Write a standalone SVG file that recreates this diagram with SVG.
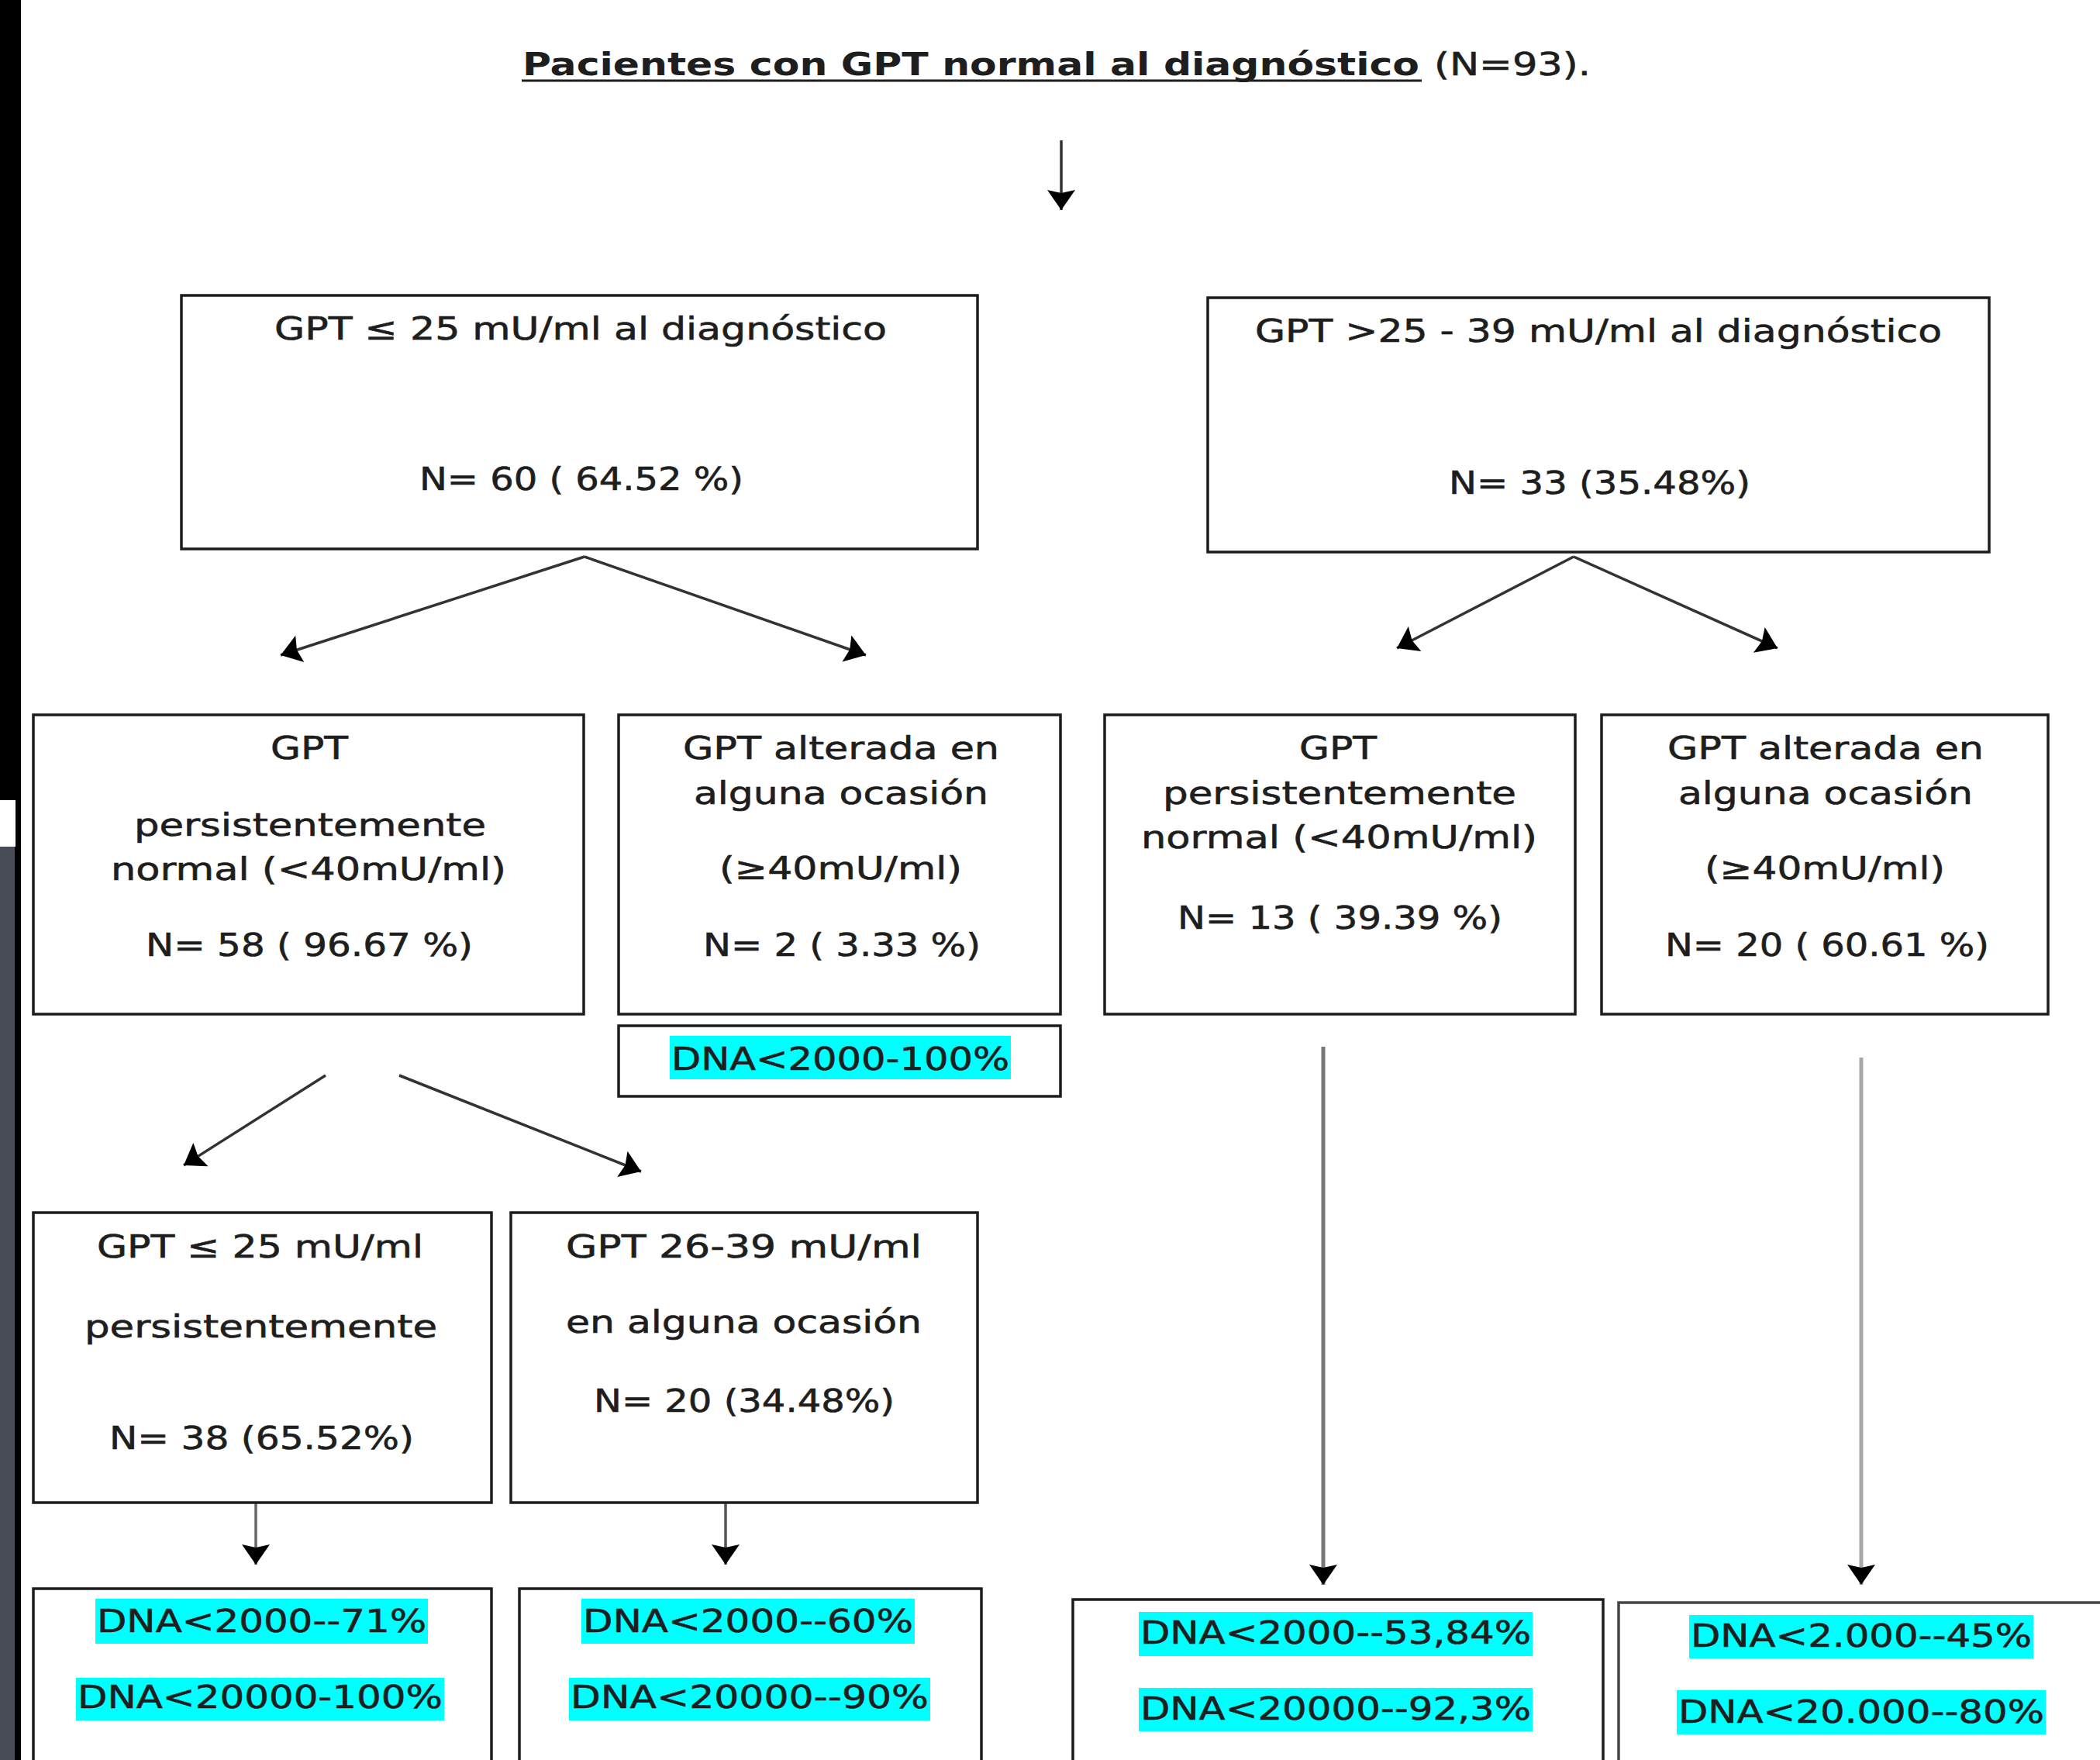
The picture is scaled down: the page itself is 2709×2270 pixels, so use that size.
<svg xmlns="http://www.w3.org/2000/svg" width="2709" height="2270" viewBox="0 0 2709 2270">
<style>
.box{fill:#fff;stroke:#1c1c1c;stroke-width:3.5}
.t{font-family:"DejaVu Sans","Liberation Sans",sans-serif;font-size:40px;fill:#1e1e1e;stroke:#1e1e1e;stroke-width:0.6}
.tb{font-family:"DejaVu Sans","Liberation Sans",sans-serif;font-size:40px;font-weight:bold;fill:#1e1e1e}
.hl{fill:#00ffff}
.c{fill:none;stroke:#333;stroke-width:3.5}
</style>
<defs>
<marker id="ah" viewBox="-2 -22 32 44" markerWidth="32" markerHeight="44" refX="26" refY="0" orient="auto" markerUnits="userSpaceOnUse">
<path d="M0,-18 L26,0 L0,18 L4,0 Z" fill="#000"/>
</marker>
</defs>
<rect x="0" y="0" width="2709" height="2270" fill="#fff"/>
<g id="side-bar">
<rect x="0" y="0" width="27" height="2270" fill="#000"/>
<rect x="0" y="1032" width="20" height="60" fill="#fff"/>
<rect x="0" y="1092" width="19" height="1178" fill="#474c57"/>
</g>
<g id="title">
<text class="tb" x="674" y="97" textLength="1157" lengthAdjust="spacingAndGlyphs">Pacientes con GPT normal al diagnóstico</text>
<line x1="673" y1="104" x2="1834" y2="104" stroke="#1e1e1e" stroke-width="3"/>
<text class="t" x="1850" y="97" textLength="202" lengthAdjust="spacingAndGlyphs">(N=93).</text>
</g>
<g id="connectors">
<line class="c" x1="1369" y1="181" x2="1369" y2="271" stroke="#444" marker-end="url(#ah)"/>
<line class="c" x1="754" y1="718" x2="362" y2="845" marker-end="url(#ah)"/>
<line class="c" x1="754" y1="718" x2="1117" y2="845" marker-end="url(#ah)"/>
<line class="c" x1="2030" y1="718" x2="1802" y2="836" marker-end="url(#ah)"/>
<line class="c" x1="2030" y1="718" x2="2293" y2="836" marker-end="url(#ah)"/>
<line class="c" x1="420" y1="1387" x2="237" y2="1503" marker-end="url(#ah)"/>
<line class="c" x1="515" y1="1387" x2="827" y2="1511" marker-end="url(#ah)"/>
<line class="c" x1="330" y1="1938" x2="330" y2="2018" style="stroke:#666" marker-end="url(#ah)"/>
<line class="c" x1="936" y1="1938" x2="936" y2="2018" style="stroke:#555" marker-end="url(#ah)"/>
<line class="c" x1="1707" y1="1350" x2="1707" y2="2044" style="stroke:#777;stroke-width:5" marker-end="url(#ah)"/>
<line class="c" x1="2401" y1="1364" x2="2401" y2="2044" style="stroke:#a8a8a8;stroke-width:5" marker-end="url(#ah)"/>
</g>
<g id="node-a">
<rect class="box" x="234" y="381" width="1027" height="327"/>
<text class="t" x="354" y="438" textLength="790" lengthAdjust="spacingAndGlyphs">GPT ≤ 25 mU/ml al diagnóstico</text>
<text class="t" x="541" y="632" textLength="418" lengthAdjust="spacingAndGlyphs">N= 60 ( 64.52 %)</text>
</g>
<g id="node-b">
<rect class="box" x="1558" y="384" width="1008" height="328"/>
<text class="t" x="1619" y="441" textLength="886" lengthAdjust="spacingAndGlyphs">GPT &gt;25 - 39 mU/ml al diagnóstico</text>
<text class="t" x="1869" y="637" textLength="389" lengthAdjust="spacingAndGlyphs">N= 33 (35.48%)</text>
</g>
<g id="node-c">
<rect class="box" x="43" y="922" width="710" height="386"/>
<text class="t" x="349" y="979" textLength="100" lengthAdjust="spacingAndGlyphs">GPT</text>
<text class="t" x="173" y="1078" textLength="454" lengthAdjust="spacingAndGlyphs">persistentemente</text>
<text class="t" x="143" y="1135" textLength="510" lengthAdjust="spacingAndGlyphs">normal (&lt;40mU/ml)</text>
<text class="t" x="188" y="1233" textLength="422" lengthAdjust="spacingAndGlyphs">N= 58 ( 96.67 %)</text>
</g>
<g id="node-d">
<rect class="box" x="798" y="922" width="570" height="386"/>
<text class="t" x="881" y="979" textLength="408" lengthAdjust="spacingAndGlyphs">GPT alterada en</text>
<text class="t" x="895" y="1037" textLength="380" lengthAdjust="spacingAndGlyphs">alguna ocasión</text>
<text class="t" x="928" y="1134" textLength="313" lengthAdjust="spacingAndGlyphs">(≥40mU/ml)</text>
<text class="t" x="907" y="1233" textLength="358" lengthAdjust="spacingAndGlyphs">N= 2 ( 3.33 %)</text>
</g>
<g id="node-d-dna">
<rect class="box" x="798" y="1323" width="570" height="91"/>
<rect class="hl" x="864" y="1336" width="440" height="56"/>
<text class="t" x="866" y="1380" textLength="436" lengthAdjust="spacingAndGlyphs">DNA&lt;2000-100%</text>
</g>
<g id="node-e">
<rect class="box" x="1425" y="922" width="607" height="386"/>
<text class="t" x="1676" y="979" textLength="100" lengthAdjust="spacingAndGlyphs">GPT</text>
<text class="t" x="1500" y="1037" textLength="456" lengthAdjust="spacingAndGlyphs">persistentemente</text>
<text class="t" x="1472" y="1094" textLength="511" lengthAdjust="spacingAndGlyphs">normal (&lt;40mU/ml)</text>
<text class="t" x="1519" y="1198" textLength="419" lengthAdjust="spacingAndGlyphs">N= 13 ( 39.39 %)</text>
</g>
<g id="node-f">
<rect class="box" x="2066" y="922" width="576" height="386"/>
<text class="t" x="2151" y="979" textLength="408" lengthAdjust="spacingAndGlyphs">GPT alterada en</text>
<text class="t" x="2165" y="1037" textLength="380" lengthAdjust="spacingAndGlyphs">alguna ocasión</text>
<text class="t" x="2199" y="1134" textLength="310" lengthAdjust="spacingAndGlyphs">(≥40mU/ml)</text>
<text class="t" x="2148" y="1233" textLength="418" lengthAdjust="spacingAndGlyphs">N= 20 ( 60.61 %)</text>
</g>
<g id="node-g">
<rect class="box" x="43" y="1564" width="591" height="374"/>
<text class="t" x="125" y="1622" textLength="421" lengthAdjust="spacingAndGlyphs">GPT ≤ 25 mU/ml</text>
<text class="t" x="109" y="1725" textLength="455" lengthAdjust="spacingAndGlyphs">persistentemente</text>
<text class="t" x="141" y="1869" textLength="393" lengthAdjust="spacingAndGlyphs">N= 38 (65.52%)</text>
</g>
<g id="node-h">
<rect class="box" x="659" y="1564" width="602" height="374"/>
<text class="t" x="730" y="1622" textLength="459" lengthAdjust="spacingAndGlyphs">GPT 26-39 mU/ml</text>
<text class="t" x="730" y="1719" textLength="459" lengthAdjust="spacingAndGlyphs">en alguna ocasión</text>
<text class="t" x="766" y="1821" textLength="388" lengthAdjust="spacingAndGlyphs">N= 20 (34.48%)</text>
</g>
<g id="node-i">
<rect class="box" x="43" y="2049" width="591" height="260"/>
<rect class="hl" x="123" y="2062" width="429" height="58"/>
<text class="t" x="125" y="2105" textLength="425" lengthAdjust="spacingAndGlyphs">DNA&lt;2000--71%</text>
<rect class="hl" x="98" y="2164" width="475" height="55"/>
<text class="t" x="100" y="2203" textLength="471" lengthAdjust="spacingAndGlyphs">DNA&lt;20000-100%</text>
</g>
<g id="node-j">
<rect class="box" x="670" y="2049" width="596" height="260"/>
<rect class="hl" x="750" y="2062" width="430" height="58"/>
<text class="t" x="752" y="2105" textLength="426" lengthAdjust="spacingAndGlyphs">DNA&lt;2000--60%</text>
<rect class="hl" x="734" y="2164" width="466" height="55"/>
<text class="t" x="736" y="2203" textLength="462" lengthAdjust="spacingAndGlyphs">DNA&lt;20000--90%</text>
</g>
<g id="node-k">
<rect class="box" x="1384" y="2063" width="684" height="250"/>
<rect class="hl" x="1469" y="2079" width="508" height="57"/>
<text class="t" x="1471" y="2120" textLength="504" lengthAdjust="spacingAndGlyphs">DNA&lt;2000--53,84%</text>
<rect class="hl" x="1469" y="2177" width="508" height="56"/>
<text class="t" x="1471" y="2218" textLength="504" lengthAdjust="spacingAndGlyphs">DNA&lt;20000--92,3%</text>
</g>
<g id="node-l">
<rect class="box" x="2088" y="2067" width="660" height="250" style="stroke:#444"/>
<rect class="hl" x="2179" y="2083" width="444" height="56"/>
<text class="t" x="2181" y="2124" textLength="440" lengthAdjust="spacingAndGlyphs">DNA&lt;2.000--45%</text>
<rect class="hl" x="2163" y="2180" width="476" height="57"/>
<text class="t" x="2165" y="2222" textLength="472" lengthAdjust="spacingAndGlyphs">DNA&lt;20.000--80%</text>
</g>
</svg>
